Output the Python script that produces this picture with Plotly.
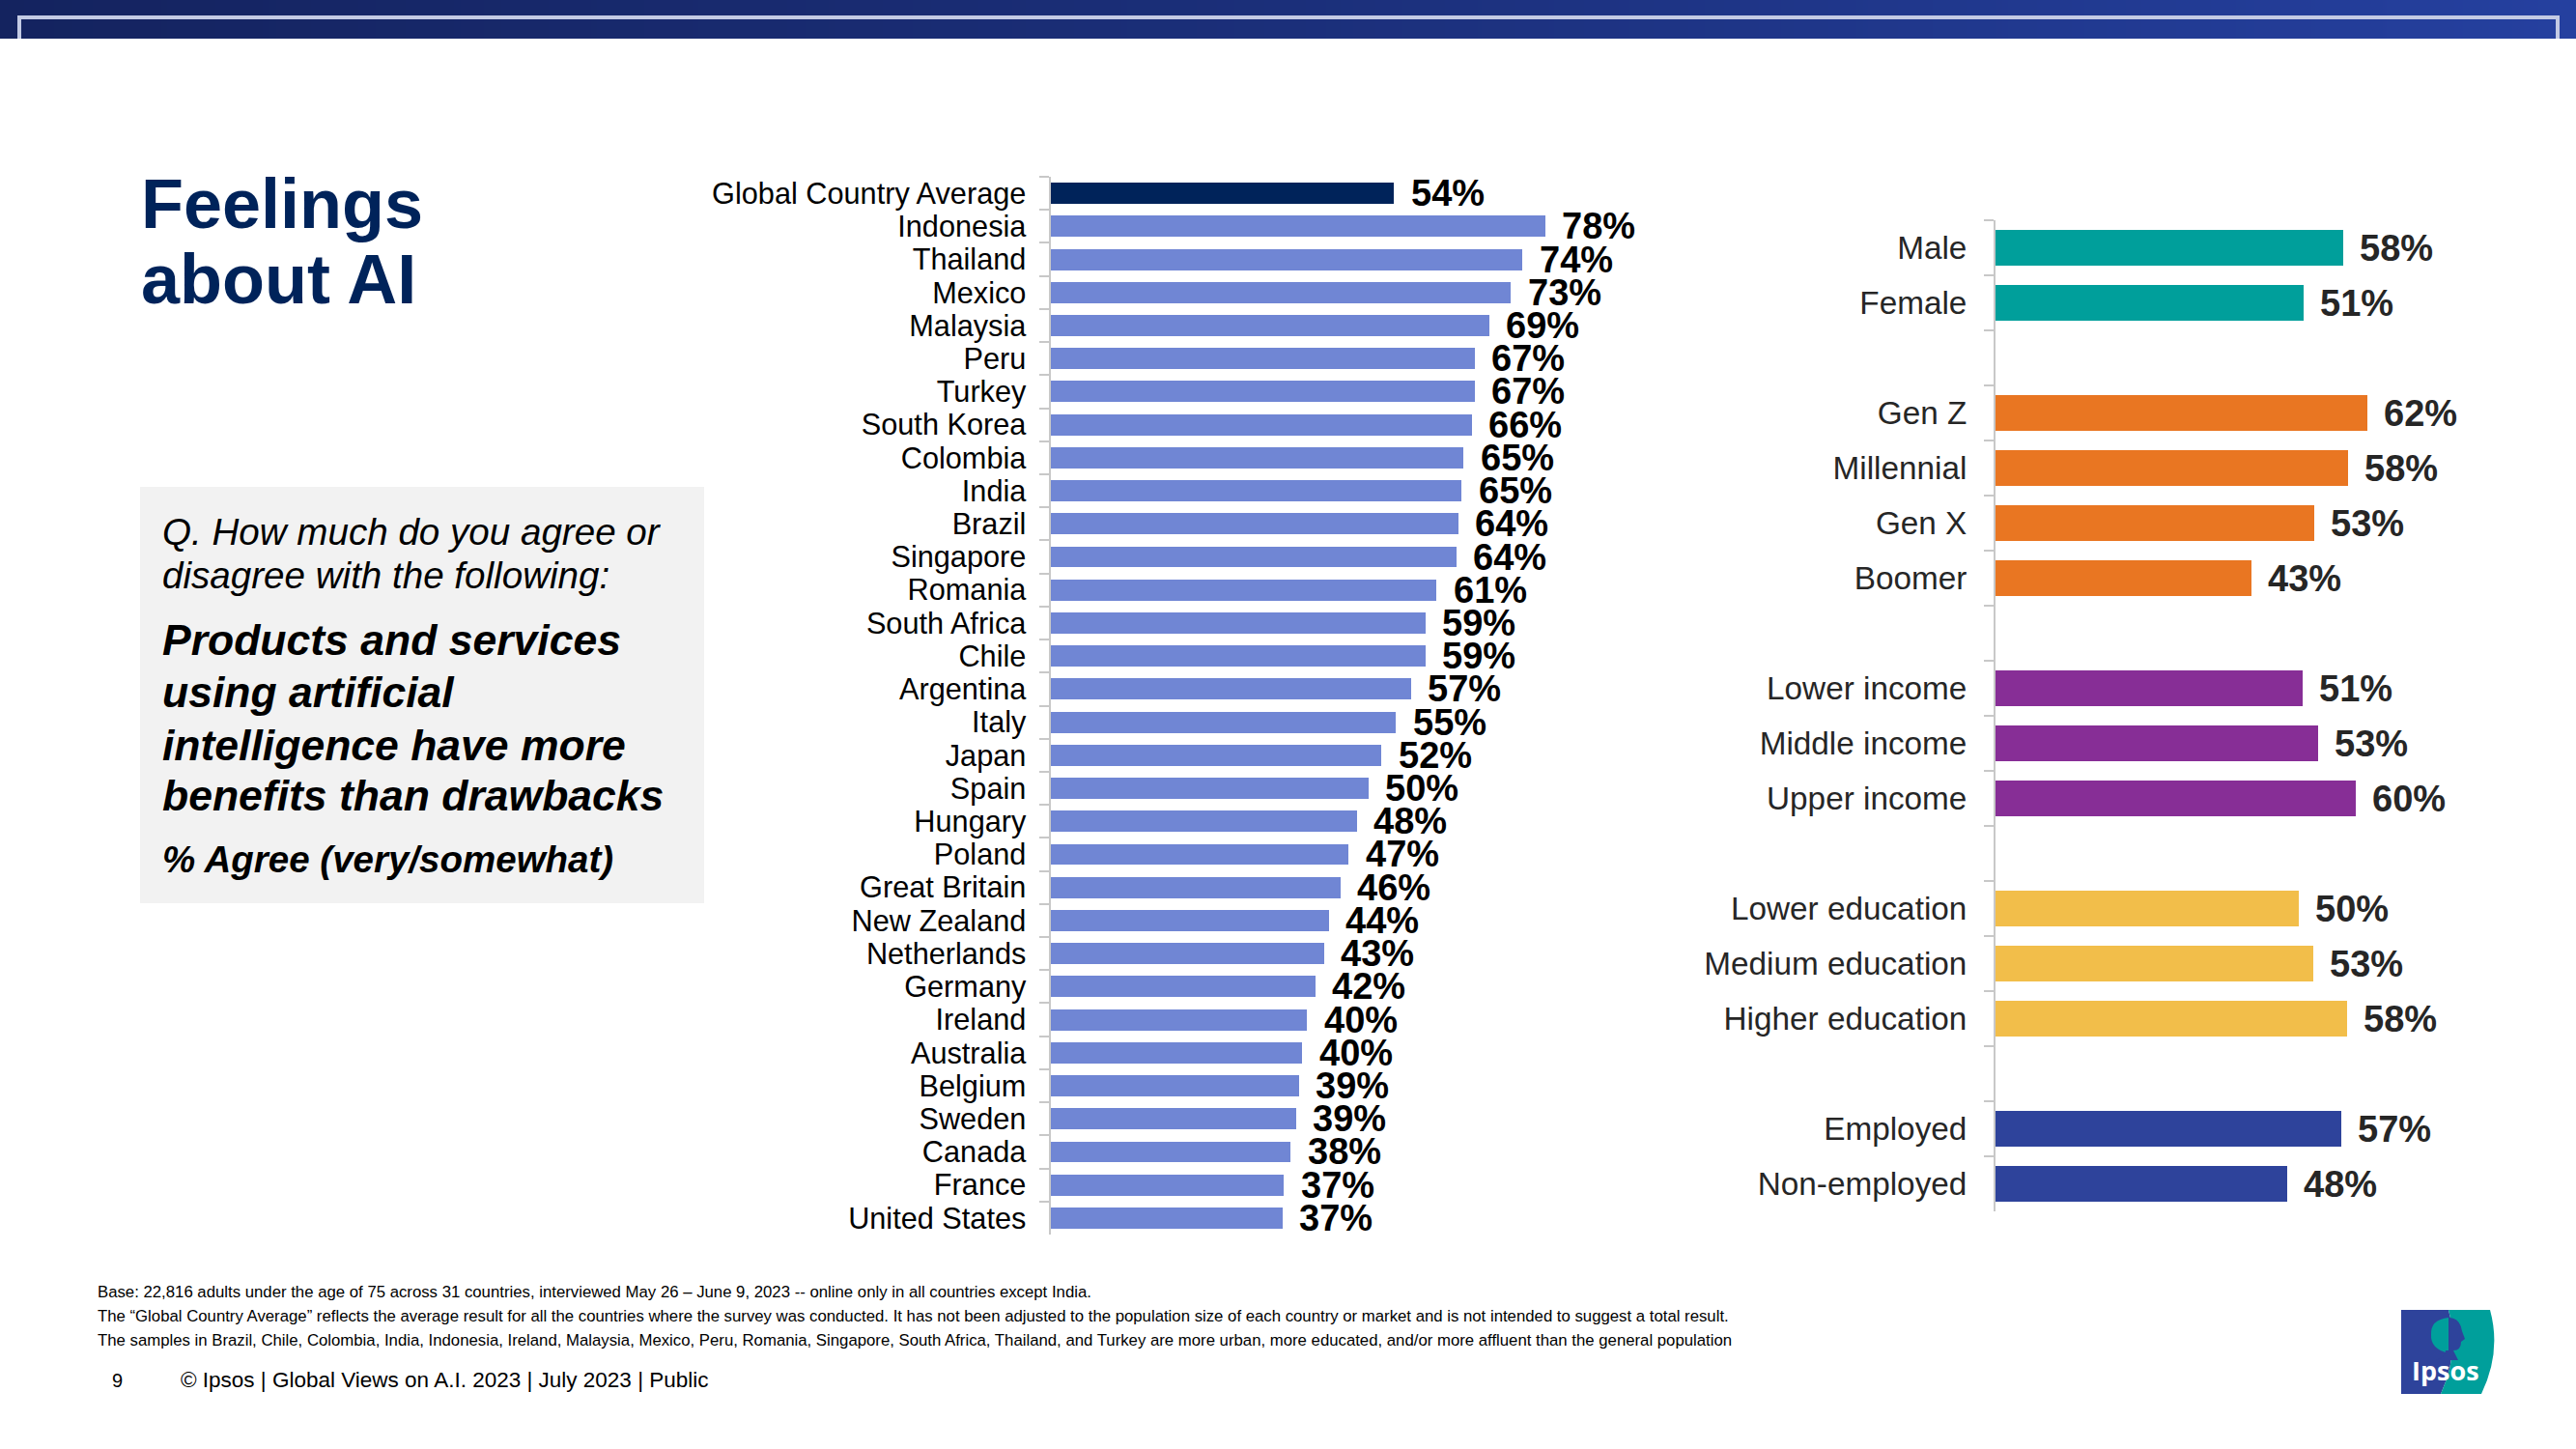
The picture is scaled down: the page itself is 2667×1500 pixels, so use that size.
import plotly.graph_objects as go

W, H = 2667, 1500
FONT = "Liberation Sans"
NAVY = "#00235A"

# --- data ---
countries = [
    "Global Country Average", "Indonesia", "Thailand", "Mexico", "Malaysia", "Peru",
    "Turkey", "South Korea", "Colombia", "India", "Brazil", "Singapore", "Romania",
    "South Africa", "Chile", "Argentina", "Italy", "Japan", "Spain", "Hungary",
    "Poland", "Great Britain", "New Zealand", "Netherlands", "Germany", "Ireland",
    "Australia", "Belgium", "Sweden", "Canada", "France", "United States",
]
# bar lengths, the printed labels are rounded
country_values = [54.1, 77.9, 74.3, 72.5, 69.1, 66.8, 66.8, 66.3, 65.0, 64.7, 64.2, 63.9, 60.8, 59.0, 59.0, 56.7,
                  54.4, 52.1, 50.0, 48.2, 46.9, 45.6, 43.8, 43.0, 41.7, 40.4, 39.6, 39.1, 38.6, 37.8, 36.7, 36.5]
country_labels = [54, 78, 74, 73, 69, 67, 67, 66, 65, 65, 64, 64, 61, 59, 59, 57,
                  55, 52, 50, 48, 47, 46, 44, 43, 42, 40, 40, 39, 39, 38, 37, 37]
country_colors = [NAVY] + ["#7086D4"] * 31

groups = [
    "Male", "Female", " ",
    "Gen Z", "Millennial", "Gen X", "Boomer", "  ",
    "Lower income", "Middle income", "Upper income", "   ",
    "Lower education", "Medium education", "Higher education", "    ",
    "Employed", "Non-employed",
]
group_values = [58.0, 51.5, None, 62.1, 58.8, 53.2, 42.8, None, 51.3, 53.9, 60.2, None, 50.6, 53.1, 58.7, None, 57.8, 48.7]
group_labels = [58, 51, None, 62, 58, 53, 43, None, 51, 53, 60, None, 50, 53, 58, None, 57, 48]
TEAL, ORANGE, PURPLE, YELLOW, BLUE = "#009F9B", "#E97622", "#872E96", "#F2BE4A", "#2E439B"
group_colors = [TEAL, TEAL, TEAL, ORANGE, ORANGE, ORANGE, ORANGE, ORANGE, PURPLE, PURPLE,
                PURPLE, PURPLE, YELLOW, YELLOW, YELLOW, YELLOW, BLUE, BLUE]

footnotes = [
    "Base: 22,816 adults under the age of 75 across 31 countries, interviewed May 26 – June 9, 2023 -- online only in all countries except India.",
    "The “Global Country Average” reflects the average result for all the countries where the survey was conducted. It has not been adjusted to the population size of each country or market and is not intended to suggest a total result.",
    "The samples in Brazil, Chile, Colombia, India, Indonesia, Ireland, Malaysia, Mexico, Peru, Romania, Singapore, South Africa, Thailand, and Turkey are more urban, more educated, and/or more affluent than the general population",
]


def px(x):
    return x / W


def py(y):
    return 1 - y / H


def label(x, y, text, size, color="#000000", bold=False, italic=False, family=FONT):
    # x is the left edge, y the vertical middle of the line, both in pixels
    if bold:
        text = f"<b>{text}</b>"
    if italic:
        text = f"<i>{text}</i>"
    return dict(x=px(x), y=py(y), xref="paper", yref="paper", text=text, showarrow=False,
                xanchor="left", yanchor="middle", align="left",
                font=dict(family=family, size=size, color=color))


fig = go.Figure()

# header gradient
fig.add_trace(go.Heatmap(z=[[0, 1]], x=[0, 1], y=[0], zsmooth="best", showscale=False,
                         colorscale=[[0, "#14235F"], [0.5, "#1B2F7A"], [1, "#25409F"]],
                         hoverinfo="skip", xaxis="x3", yaxis="y3"))

fig.add_trace(go.Bar(x=country_values, y=countries, orientation="h", width=0.64,
                     marker=dict(color=country_colors, line_width=0),
                     xaxis="x", yaxis="y"))
fig.add_trace(go.Bar(x=group_values, y=groups, orientation="h", width=0.64,
                     marker=dict(color=group_colors, line_width=0),
                     xaxis="x2", yaxis="y2"))

annotations = []
for name, v, t in zip(countries, country_values, country_labels):
    annotations.append(dict(x=v, y=name, xref="x", yref="y", text=f"<b>{t}%</b>", showarrow=False,
                            xanchor="left", yanchor="middle", xshift=16, yshift=0,
                            font=dict(family=FONT, size=38, color="#000000")))
for name, v, t in zip(groups, group_values, group_labels):
    if v is None:
        continue
    annotations.append(dict(x=v, y=name, xref="x2", yref="y2", text=f"<b>{t}%</b>", showarrow=False,
                            xanchor="left", yanchor="middle", xshift=15, yshift=0,
                            font=dict(family=FONT, size=38, color="#262626")))

annotations += [
    label(144, 211, "Feelings", 72, NAVY, bold=True),
    label(144, 289, "about AI", 72, NAVY, bold=True),
    label(166, 551, "Q. How much do you agree or", 38.6, italic=True),
    label(166, 595, "disagree with the following:", 38.6, italic=True),
    label(166, 663, "Products and services", 44.5, bold=True, italic=True),
    label(166, 716, "using artificial", 44.5, bold=True, italic=True),
    label(166, 771, "intelligence have more", 44.5, bold=True, italic=True),
    label(166, 823, "benefits than drawbacks", 44.5, bold=True, italic=True),
    label(166, 889, "% Agree (very/somewhat)", 38.5, bold=True, italic=True),
    label(99, 1337, footnotes[0], 16.75),
    label(99, 1362, footnotes[1], 16.75),
    label(99, 1387, footnotes[2], 16.75),
    label(114, 1429, "9", 20),
    label(185, 1428, "© Ipsos | Global Views on A.I. 2023 | July 2023 | Public", 22.5),
    label(2495, 1418, "Ipsos", 27, "#FFFFFF", bold=True, family="Open Sans"),
]


def svg(s):
    # s is a list of commands with pixel coordinates, turned into paper coordinates
    out = []
    for cmd in s:
        if cmd == "Z":
            out.append("Z")
        else:
            letter, *xy = cmd
            pairs = [f"{px(xy[i])},{py(xy[i + 1])}" for i in range(0, len(xy), 2)]
            out.append(letter + " ".join(pairs))
    return " ".join(out)


frame_line = svg([("M", 20, 40), ("L", 20, 18), ("L", 2648, 18), ("L", 2648, 40)])
logo_blue = svg([("M", 2486, 1356), ("L", 2535, 1356), ("Q", 2547, 1400, 2527, 1443), ("L", 2486, 1443), "Z"])
logo_teal = svg([("M", 2535, 1356), ("L", 2578, 1356), ("Q", 2590, 1400, 2569, 1443), ("L", 2527, 1443),
                 ("Q", 2547, 1400, 2535, 1356), "Z"])
crown = svg([("M", 2535, 1364), ("Q", 2516, 1366, 2517, 1382), ("Q", 2516, 1396, 2535, 1401), "Z"])
head = svg([("M", 2535, 1364), ("Q", 2547, 1364, 2549, 1378), ("L", 2552, 1386), ("L", 2548, 1389),
            ("Q", 2548, 1398, 2540, 1398), ("L", 2545, 1408), ("L", 2522, 1408), ("Q", 2532, 1405, 2532, 1398),
            ("L", 2535, 1398), "Z"])

shapes = [
    dict(type="path", path=frame_line, xref="paper", yref="paper", line=dict(color="#C3CAE4", width=4)),
    dict(type="rect", x0=px(145), x1=px(729), y0=py(504), y1=py(935), xref="paper", yref="paper",
         fillcolor="#F2F2F2", line_width=0, layer="below"),
    dict(type="path", path=logo_blue, xref="paper", yref="paper", fillcolor="#2E439B", line_width=0),
    dict(type="path", path=logo_teal, xref="paper", yref="paper", fillcolor="#009F9B", line_width=0),
    dict(type="path", path=crown, xref="paper", yref="paper", fillcolor="#009F9B", line_width=0),
    dict(type="path", path=head, xref="paper", yref="paper", fillcolor="#2E439B", line_width=0),
]

cat_axis = dict(type="category", tickson="boundaries", ticks="outside", dtick=1,
                ticklen=10, tickwidth=2, tickcolor="#C8C8C8", showline=True, linecolor="#C8C8C8",
                linewidth=2, showgrid=False, zeroline=False)

fig.update_layout(
    width=W, height=H,
    margin=dict(l=0, r=0, t=0, b=0),
    paper_bgcolor="white",
    plot_bgcolor="rgba(0,0,0,0)",
    showlegend=False,
    bargap=0,
    xaxis=dict(domain=[px(1087.5), px(1087.5 + 657)], range=[0, 100], visible=False),
    yaxis=dict(domain=[py(1278), py(183)], anchor="x", categoryorder="array", categoryarray=countries,
               range=[31.5, -0.5], tickfont=dict(family=FONT, size=30.7, color="#000000"),
               ticklabelstandoff=17, **cat_axis),
    xaxis2=dict(domain=[px(2066), px(2066 + 558)], range=[0, 90], visible=False, anchor="y2"),
    yaxis2=dict(domain=[py(1254), py(228)], anchor="x2", categoryorder="array", categoryarray=groups,
                range=[17.5, -0.5], tickfont=dict(family=FONT, size=33.3, color="#262626"),
                ticklabelstandoff=21, **cat_axis),
    xaxis3=dict(domain=[0, 1], range=[0, 1], visible=False, anchor="y3"),
    yaxis3=dict(domain=[py(40), 1], visible=False, anchor="x3"),
    shapes=shapes,
    annotations=annotations,
)

fig.write_html("out.html", config=dict(displayModeBar=False),
               post_script="document.body.style.margin = '0';")
